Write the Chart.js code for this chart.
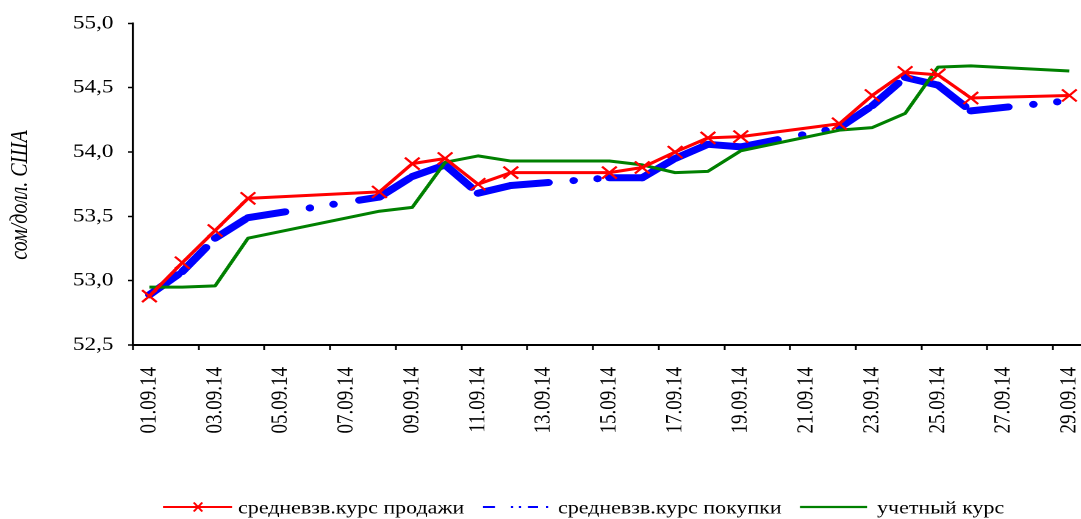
<!DOCTYPE html>
<html><head><meta charset="utf-8">
<style>
html,body{margin:0;padding:0;overflow:hidden;background:#fff;width:1081px;height:519px}
#wrap{position:absolute;left:0;top:0;width:956px;height:519px;transform:scaleX(1.22);transform-origin:0 0}
canvas{display:block}
</style>
<script src="https://cdn.jsdelivr.net/npm/chart.js@4/dist/chart.umd.min.js"></script>
</head><body>
<div id="wrap"><canvas id="c" width="956" height="519" style="width:956px;height:519px"></canvas></div>
<script>
// ---- data ----
const categories = ['01.09.14','02.09.14','03.09.14','04.09.14','05.09.14','06.09.14','07.09.14','08.09.14','09.09.14','10.09.14',
  '11.09.14','12.09.14','13.09.14','14.09.14','15.09.14','16.09.14','17.09.14','18.09.14','19.09.14','20.09.14',
  '21.09.14','22.09.14','23.09.14','24.09.14','25.09.14','26.09.14','27.09.14','28.09.14','29.09.14'];
const seriesNames = ['средневзв.курс продажи','средневзв.курс покупки','учетный курс'];
const saleRate = [52.88,53.14,53.39,53.64,null,null,null,53.69,53.91,53.95,
  53.75,53.84,null,null,53.84,53.88,54.00,54.11,54.12,null,
  null,54.22,54.44,54.62,54.60,54.42,null,null,54.44];
const buyRate = [52.89,53.07,53.33,53.49,null,null,null,53.65,53.81,53.90,
  53.68,53.74,null,null,53.80,53.80,53.95,54.06,54.04,null,
  null,54.19,54.36,54.58,54.52,54.32,null,null,54.40];
const officialRate = [52.95,52.95,52.96,53.33,null,null,null,53.54,53.57,53.92,
  53.97,53.93,null,null,53.93,53.90,53.84,53.85,54.01,null,
  null,54.17,54.19,54.30,54.66,54.67,null,null,54.63];
const yTicks = [52.5,53.0,53.5,54.0,54.5,55.0];
const yTitle = 'сом/долл. США';

const SERIF = '"Liberation Serif","Times New Roman",serif';
const blueDash = [31, 20.7, 0.01, 19.7, 0.01, 21.5];

const extras = {
  id: 'extras',
  afterDraw(chart) {
    const ctx = chart.ctx;
    ctx.save();
    // y axis title
    ctx.translate(16.5, 195);
    ctx.rotate(-Math.PI/2);
    ctx.font = 'italic 20px ' + SERIF;
    ctx.fillStyle = '#000';
    ctx.textAlign = 'center';
    ctx.textBaseline = 'middle';
    ctx.fillText(yTitle, 0, 0);
    ctx.restore();

    // legend
    ctx.save();
    const ly = 507;
    ctx.lineCap = 'butt';
    // red
    ctx.strokeStyle = '#ff0000'; ctx.lineWidth = 2;
    ctx.beginPath(); ctx.moveTo(133.6, ly); ctx.lineTo(190.2, ly); ctx.stroke();
    ctx.lineWidth = 1.8;
    ctx.beginPath();
    ctx.moveTo(162.3-3.5, ly-4.5); ctx.lineTo(162.3+3.5, ly+4.5);
    ctx.moveTo(162.3+3.5, ly-4.5); ctx.lineTo(162.3-3.5, ly+4.5);
    ctx.stroke();
    // blue
    ctx.strokeStyle = '#0000ff'; ctx.lineWidth = 2;
    ctx.beginPath();
    ctx.moveTo(395.9, ly); ctx.lineTo(405.7, ly);
    ctx.moveTo(432.8, ly); ctx.lineTo(441, ly);
    ctx.stroke();
    ctx.fillStyle = '#0000ff';
    [419.7, 426.2, 448.4].forEach(x => { ctx.fillRect(x-0.9, ly-1, 1.8, 2); });
    // green
    ctx.strokeStyle = '#008000'; ctx.lineWidth = 2.2;
    ctx.beginPath(); ctx.moveTo(655.7, ly); ctx.lineTo(710.7, ly); ctx.stroke();
    // texts
    ctx.fillStyle = '#000';
    ctx.font = '18px ' + SERIF;
    ctx.textBaseline = 'middle';
    ctx.textAlign = 'left';
    ctx.fillText(seriesNames[0], 195.1, 509);
    ctx.fillText(seriesNames[1], 457.4, 509);
    ctx.fillText(seriesNames[2], 718.9, 509);
    ctx.restore();
  }
};

new Chart(document.getElementById('c'), {
  type: 'line',
  data: {
    labels: categories,
    datasets: [
      { label: seriesNames[0], data: saleRate, order: 0, borderColor: '#ff0000', borderWidth: 3,
        pointStyle: 'crossRot', pointRadius: 8.5, pointBorderWidth: 2, pointBorderColor: '#ff0000',
        pointBackgroundColor: 'rgba(0,0,0,0)', spanGaps: true, tension: 0, borderJoinStyle: 'round' },
      { label: seriesNames[1], data: buyRate, order: 2, borderColor: '#0000ff', borderWidth: 7,
        pointRadius: 0, spanGaps: true, tension: 0, borderCapStyle: 'round', borderJoinStyle: 'round',
        borderDash: blueDash,
        segment: { borderDash: () => blueDash, borderDashOffset: c => c.p0DataIndex * 1e-4 } },
      { label: seriesNames[2], data: officialRate, order: 1, borderColor: '#008000', borderWidth: 3,
        pointRadius: 0, spanGaps: true, tension: 0, borderJoinStyle: 'round' }
    ]
  },
  options: {
    responsive: false,
    maintainAspectRatio: false,
    animation: false,
    devicePixelRatio: 2,
    events: [],
    layout: { padding: { top: 21.5, left: 0, right: 66, bottom: 0 } },
    plugins: { legend: { display: false }, tooltip: { enabled: false } },
    scales: {
      x: {
        type: 'category',
        offset: true,
        afterFit(s) { s.height = 519 - 345; },
        grid: { offset: true, drawOnChartArea: false, tickLength: 5, tickWidth: 1.5,
          tickColor: c => (c.index % 2 === 0 ? '#000' : 'rgba(0,0,0,0)') },
        border: { display: true, color: '#000', width: 2 },
        ticks: { autoSkip: false, minRotation: 90, maxRotation: 90, padding: 17, color: '#000',
          font: { family: SERIF, size: 19 },
          callback: function(v, i) { return i % 2 === 0 ? categories[i] : ''; } }
      },
      y: {
        min: 52.5, max: 55.0,
        afterFit(s) { s.width = 109; },
        afterBuildTicks(s) { s.ticks = yTicks.map(v => ({ value: v })); },
        grid: { drawOnChartArea: false, tickLength: 4, tickWidth: 1.5, tickColor: '#000' },
        border: { display: true, color: '#000', width: 1.8 },
        ticks: { padding: 12, color: '#000', font: { family: SERIF, size: 19 },
          callback: v => v.toFixed(1).replace('.', ',') }
      }
    }
  },
  plugins: [extras]
});
</script>
</body></html>
